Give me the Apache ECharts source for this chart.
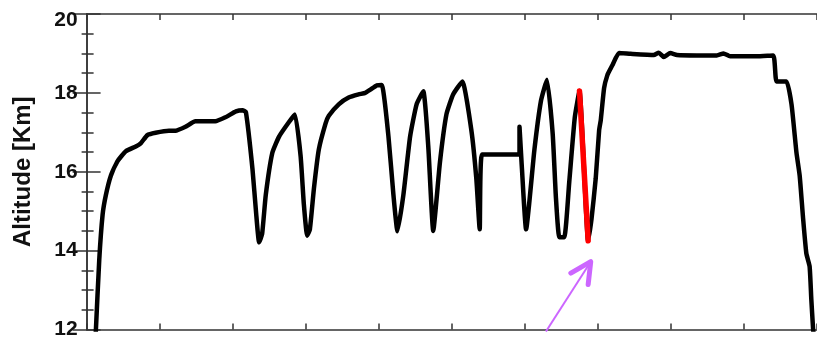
<!DOCTYPE html>
<html>
<head>
<meta charset="utf-8">
<script src="https://cdn.jsdelivr.net/npm/echarts@6/dist/echarts.min.js"></script>
<style>
html,body{margin:0;padding:0;background:#fff;}
#c{width:817px;height:340px;}
</style>
</head>
<body>
<div id="c"></div>
<script>
// Flight track (x in arbitrary time units 0..10, altitude in km)
const trackX = [0.125,0.173,0.219,0.264,0.332,0.424,0.537,0.673,0.741,0.832,0.945,1.127,1.218,1.354,1.490,1.763,1.899,2.045,2.135,2.181,2.271,2.321,2.362,2.403,2.453,2.543,2.635,2.771,2.853,2.930,2.975,3.020,3.057,3.112,3.179,3.271,3.316,3.452,3.588,3.724,3.816,3.884,3.974,4.042,4.133,4.201,4.256,4.337,4.429,4.518,4.610,4.678,4.746,4.837,4.927,5.018,5.145,5.268,5.336,5.382,5.413,5.927,5.927,5.958,6.017,6.131,6.221,6.303,6.381,6.426,6.472,6.540,6.608,6.684,6.748,6.867,6.912,6.970,7.017,7.039,7.085,7.130,7.175,7.198,7.289,7.447,7.766,7.834,7.902,7.992,8.083,8.355,8.628,8.720,8.809,9.173,9.401,9.446,9.582,9.651,9.719,9.763,9.809,9.854,9.899,9.922,9.946,9.957];
const trackAlt = [11.9,13.76,14.91,15.41,15.90,16.27,16.52,16.64,16.72,16.93,16.99,17.04,17.04,17.14,17.28,17.28,17.38,17.53,17.56,17.51,16.07,14.95,14.21,14.42,15.41,16.48,16.89,17.26,17.45,16.40,15.16,14.38,14.54,15.57,16.56,17.22,17.42,17.71,17.88,17.96,18.00,18.08,18.19,18.20,16.89,15.41,14.49,15.41,16.89,17.71,18.04,16.64,14.50,16.23,17.46,17.96,18.29,17.05,15.82,14.54,16.44,16.44,17.14,16.15,14.54,16.56,17.80,18.33,16.97,15.33,14.34,14.34,15.74,17.38,18.05,14.25,14.79,15.82,17.05,17.30,18.12,18.45,18.62,18.70,19.01,18.99,18.96,19.02,18.91,19.01,18.96,18.95,18.95,19.00,18.93,18.93,18.95,18.29,18.29,17.71,16.48,15.90,14.83,13.93,13.60,12.77,12.03,11.83];
// Highlighted descent (red)
const highlightX = [6.748, 6.867];
const highlightAlt = [18.05, 14.25];
// Arrow annotation (shaft tail -> tip, head arms)
const arrowShaftX = [6.289, 6.902];
const arrowShaftAlt = [11.95, 13.72];
const arrowHeadX = [6.630, 6.902, 6.867];
const arrowHeadAlt = [13.43, 13.72, 13.14];
// Axis ticks
const yTicks = [12, 14, 16, 18, 20];

const zip = (xs, ys) => xs.map((x, i) => [x, ys[i]]);

const axisColor = '#333';
const chart = echarts.init(document.getElementById('c'));
chart.setOption({
  animation: false,
  backgroundColor: '#fff',
  grid: {left: 86.6, top: 14, width: 734.1, height: 324, containLabel: false},
  xAxis: [
    {type: 'value', min: 0, max: 10, interval: 1, position: 'bottom',
     axisLine: {show: true, lineStyle: {color: axisColor, width: 1.5}},
     axisTick: {show: true, inside: true, length: 6, lineStyle: {color: axisColor, width: 1.5}},
     axisLabel: {show: false}, splitLine: {show: false}},
    {type: 'value', min: 0, max: 10, interval: 1, position: 'top',
     axisLine: {show: true, lineStyle: {color: axisColor, width: 1.5}},
     axisTick: {show: true, inside: true, length: 6, lineStyle: {color: axisColor, width: 1.5}},
     axisLabel: {show: false}, splitLine: {show: false}}
  ],
  yAxis: [
    {type: 'value', min: yTicks[0], max: yTicks[yTicks.length - 1], interval: 2, position: 'left',
     name: 'Altitude [Km]', nameLocation: 'middle', nameGap: 51, nameRotate: 90,
     nameTextStyle: {fontFamily: 'Liberation Sans', fontWeight: 'bold', fontSize: 24, color: '#111'},
     axisLine: {show: true, lineStyle: {color: axisColor, width: 1.5}},
     axisTick: {show: true, inside: true, length: 14, lineStyle: {color: axisColor, width: 1.5}},
     minorTick: {show: true, splitNumber: 4, length: 7, lineStyle: {color: axisColor, width: 1.5}},
     axisLabel: {show: true, margin: 9, fontFamily: 'Liberation Sans', fontWeight: 'bold', fontSize: 21, color: '#111',
       formatter: v => v === 20 ? '{t|20}' : String(v),
       rich: {t: {fontFamily: 'Liberation Sans', fontWeight: 'bold', fontSize: 21, color: '#111', lineHeight: 34, verticalAlign: 'bottom'}}},
     splitLine: {show: false}, minorSplitLine: {show: false}},
    {type: 'value', min: yTicks[0], max: yTicks[yTicks.length - 1], interval: 2, position: 'right',
     axisLine: {show: true, lineStyle: {color: axisColor, width: 1.5}},
     axisTick: {show: true, inside: true, length: 14, lineStyle: {color: axisColor, width: 1.5}},
     minorTick: {show: true, splitNumber: 4, length: 5, lineStyle: {color: axisColor, width: 1.5}},
     axisLabel: {show: false}, splitLine: {show: false}, minorSplitLine: {show: false}}
  ],
  series: [
    {type: 'line', data: zip(trackX, trackAlt), showSymbol: false, symbol: 'none', clip: true,
     smooth: 0.15,
     lineStyle: {color: '#000', width: 4.5, join: 'round', cap: 'round'}, z: 3},
    {type: 'line', data: zip(highlightX, highlightAlt), showSymbol: false, symbol: 'none',
     lineStyle: {color: '#ff0000', width: 5.5, join: 'round', cap: 'round'}, z: 4},
    {type: 'line', data: zip(arrowShaftX, arrowShaftAlt), showSymbol: false, symbol: 'none', clip: false,
     lineStyle: {color: '#cc66ff', width: 2}, z: 5},
    {type: 'line', data: zip(arrowHeadX, arrowHeadAlt), showSymbol: false, symbol: 'none', clip: false,
     lineStyle: {color: '#cc66ff', width: 5, join: 'round', cap: 'round'}, z: 5}
  ]
});
</script>
</body>
</html>
